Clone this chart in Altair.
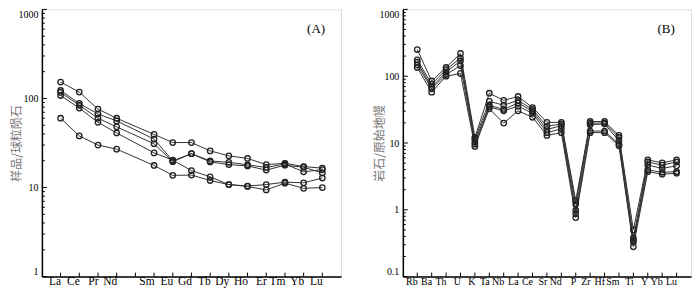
import altair as alt
import pandas as pd

# ---------------- data ----------------
ree = ["La", "Ce", "Pr", "Nd", "Sm", "Eu", "Gd", "Tb", "Dy", "Ho", "Er", "Tm", "Yb", "Lu"]
ree_axis = ["La", "Ce", "Pr", "Nd", "Pm", "Sm", "Eu", "Gd", "Tb", "Dy", "Ho", "Er", "Tm", "Yb", "Lu"]
a1 = [153, 118, 76, 60, 39.5, 32, 32, 25.8, 22.7, 21.2, 18.1, 18.7, 17.2, 16.5]
a2 = [123, 88, 67, 56, 35, 20, 24, 19.9, 19.2, 18.0, 16.8, 18.4, 15.0, 15.9]
a3 = [117, 84, 60, 48, 31, 19.5, 24, 19.4, 18.1, 17.5, 15.7, 17.8, 16.9, 14.6]
a4 = [108, 78, 54, 41, 24.5, 20.3, 15.5, 13.2, 10.8, 10.4, 10.8, 11.5, 11.3, 12.8]
a5 = [60, 38, 30, 27, 17.7, 13.7, 13.8, 12.0, 10.8, 10.3, 9.4, 11.2, 9.8, 10.0]

trace = ["Rb", "Ba", "Th", "U", "K", "Ta", "Nb", "La", "Ce", "Sr", "Nd", "P", "Zr", "Hf", "Sm", "Ti", "Y", "Yb", "Lu"]
b1 = [251, 85, 135, 219, 12.1, 55.6, 43.5, 49.7, 34.0, 20.4, 20.4, 1.37, 21.0, 21.0, 13.0, 0.50, 5.6, 5.05, 5.6]
b2 = [176, 76, 126, 186, 11.4, 42.0, 36.8, 43.5, 31.8, 17.8, 19.3, 1.22, 19.9, 19.9, 12.1, 0.38, 5.2, 4.67, 5.2]
b3 = [163, 69, 115, 170, 10.4, 36.8, 31.8, 39.8, 30.0, 15.9, 18.2, 0.98, 18.8, 19.3, 10.8, 0.35, 4.67, 4.17, 4.56]
b4 = [148, 65, 106, 144, 9.6, 34.8, 30.3, 35.6, 27.9, 14.3, 16.3, 0.875, 15.1, 15.1, 9.6, 0.33, 3.95, 3.65, 3.73]
b5 = [135, 57.6, 100, 110, 8.9, 32.5, 19.9, 30.3, 24.3, 13.0, 14.3, 0.765, 14.3, 14.3, 9.1, 0.28, 3.73, 3.41, 3.53]

a_labels = [1, 10, 100, 1000]
b_labels = [0.1, 1, 10, 100, 1000]

SERIF = "Liberation Serif"
CJK = "Noto Sans CJK SC"


def long_df(names, series):
    rows = []
    for s, vals in enumerate(series):
        for i, (n, v) in enumerate(zip(names, vals)):
            rows.append({"s": s, "idx": i, "el": n, "v": v})
    return pd.DataFrame(rows)


def minor_ticks(lo, hi):
    out = []
    d = lo
    while d < hi * 0.999:
        for m in range(2, 10):
            out.append(d * m)
        d *= 10
    return out


def panel(df, axis_domain, ydom, labels, title, title_pad, tag, width, height, xfs):
    xscale = alt.Scale(type="point", domain=axis_domain, padding=1)
    yscale = alt.Scale(type="log", domain=ydom)
    x_axis = alt.Axis(
        title=None, ticks=False, grid=False, labelAngle=0,
        labelExpr="datum.value == 'Pm' ? '' : datum.value",
        labelFont=SERIF, labelFontSize=xfs, labelPadding=5,
        labelColor="black", domainColor="black", domainWidth=1.5,
    )
    y_axis = alt.Axis(
        title=title, values=labels, format="~g", ticks=False, grid=False,
        labelFont=SERIF, labelFontSize=10, labelPadding=4, labelColor="black",
        labelFlush=True,
        domainColor="black", domainWidth=1.5,
        titleFont=CJK, titleFontSize=12, titleColor="#777", titleFontWeight="normal",
        titlePadding=title_pad,
    )
    base = alt.Chart(df)
    line = base.mark_line(color="#333", strokeWidth=1).encode(
        x=alt.X("el:N", scale=xscale, axis=x_axis),
        y=alt.Y("v:Q", scale=yscale, axis=y_axis),
        detail="s:N",
        order="idx:Q",
    )
    pts = base.mark_point(shape="circle", filled=False, color="#222", size=30, strokeWidth=1.3, opacity=1).encode(
        x=alt.X("el:N", scale=xscale),
        y=alt.Y("v:Q", scale=yscale),
    )
    major = alt.Chart(pd.DataFrame({"t": labels})).mark_rule(color="black", strokeWidth=1).encode(
        y=alt.Y("t:Q", scale=yscale), x=alt.value(0), x2=alt.value(5)
    )
    minor = alt.Chart(pd.DataFrame({"t": minor_ticks(ydom[0], ydom[1])})).mark_rule(color="black", strokeWidth=1).encode(
        y=alt.Y("t:Q", scale=yscale), x=alt.value(0), x2=alt.value(3)
    )
    xt = alt.Chart(pd.DataFrame({"el": axis_domain})).mark_rule(color="black", strokeWidth=1).encode(
        x=alt.X("el:N", scale=xscale), y=alt.value(height), y2=alt.value(height - 4)
    )
    tagt = alt.Chart(pd.DataFrame({"t": [tag]})).mark_text(
        font=SERIF, fontSize=13, color="black", align="center", baseline="middle"
    ).encode(text="t:N", x=alt.value(width - 25), y=alt.value(20))
    return alt.layer(minor, major, xt, line, pts, tagt).properties(width=width, height=height)


W_A, W_B, H = 300, 289, 268
pA = panel(long_df(ree, [a1, a2, a3, a4, a5]), ree_axis, [1, 1000], a_labels,
           "样品/球粒陨石", -6, "(A)", W_A, H, 11.5)
pB = panel(long_df(trace, [b1, b2, b3, b4, b5]), trace, [0.1, 1000], b_labels,
           "岩石/原始地幔", -8, "(B)", W_B, H, 10)

chart = alt.hconcat(pA, pB, spacing=31).properties(
    padding={"left": 2, "top": 0, "right": 0, "bottom": 0}
).configure_view(stroke="#777", strokeWidth=1.5).configure(background="white")

chart.save("out.html", embed_options={"renderer": "svg", "actions": False})
